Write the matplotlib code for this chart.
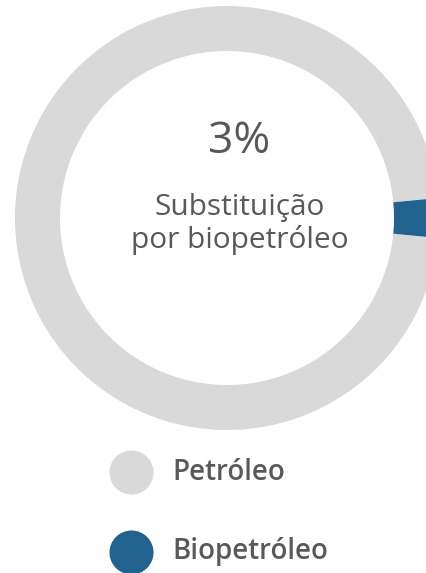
import matplotlib
matplotlib.use("Agg")
import matplotlib.pyplot as plt

# data
labels = ["Petróleo", "Biopetróleo"]
shares = [97, 3]
colors = ["#d9d9d9", "#22628e"]
center_value = "3%"
center_caption = "Substituição\npor biopetróleo"

plt.rcParams["font.family"] = ["Open Sans", "DejaVu Sans"]
txt_color = "#595959"

W, H = 426, 573
fig = plt.figure(figsize=(W / 100, H / 100), dpi=100)
ax = fig.add_axes([0, 0, 1, 1])

# donut, biopetroleo slice centred on the horizontal at the right
half = shares[1] / sum(shares) * 360 / 2
ax.pie(shares, colors=colors, startangle=half, counterclock=True,
       center=(227, H - 218), radius=212,
       wedgeprops=dict(width=45, linewidth=0))
ax.set_xlim(0, W)
ax.set_ylim(0, H)
ax.set_aspect("equal")
ax.axis("off")

ax.text(239, H - 142, center_value, ha="center", va="center",
        fontsize=32, color=txt_color)
ax.text(240, H - 224, center_caption, ha="center", va="center",
        fontsize=21.5, color=txt_color, linespacing=1.1)

# legend
for i, (lab, col) in enumerate(zip(labels, colors)):
    y = H - (472 + i * 80)
    ax.scatter([131], [y], s=44 ** 2 * 0.52, color=col, linewidths=0)
    ax.text(172, y, lab, ha="left", va="center", fontsize=20,
            fontweight="semibold", color=txt_color)

fig.savefig("out.png", dpi=100)
